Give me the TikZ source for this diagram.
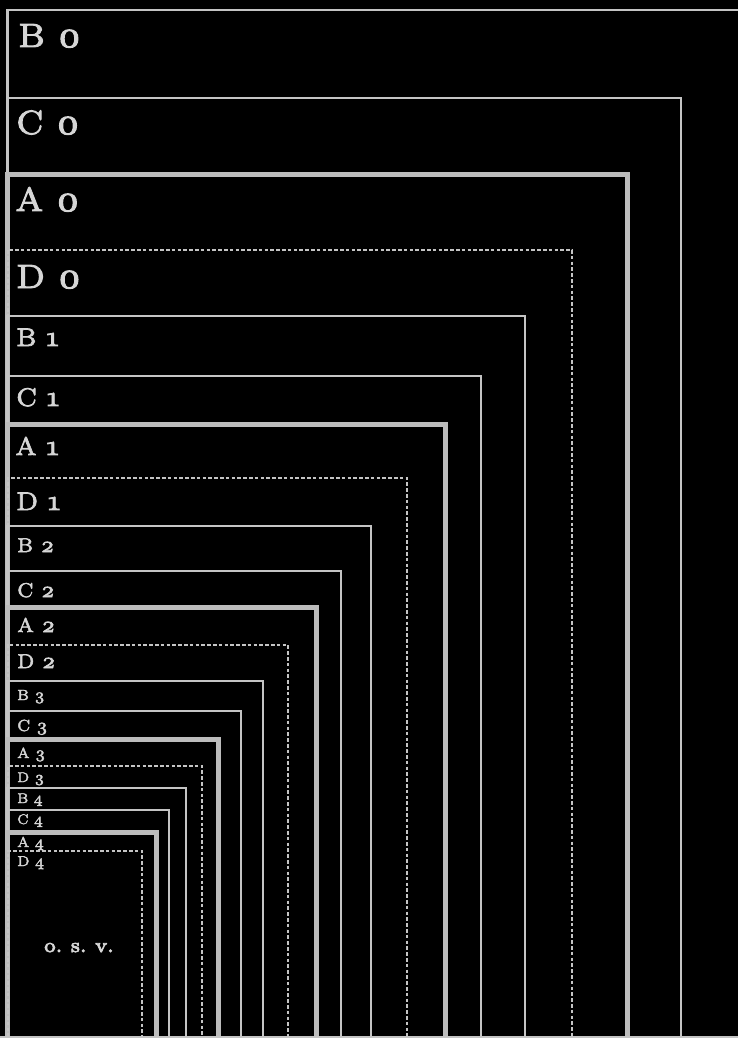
\documentclass[tikz,border=0pt]{standalone}
\usepackage{graphicx}
\definecolor{linegray}{RGB}{196,196,196}
\definecolor{thickgray}{RGB}{188,188,188}
\definecolor{textgray}{RGB}{214,214,214}
\tikzset{
  bline/.style={draw=linegray, line width=2.4pt},
  cline/.style={draw=linegray, line width=1.5pt},
  aline/.style={draw=thickgray, line width=5pt},
  dline/.style={draw=linegray, line width=2pt, dash pattern=on 3.6pt off 2.2pt},
  lab/.style={anchor=base west, inner sep=0pt, text=textgray},
}
\font\labfont="[lmroman7-regular.otf]:+onum;embolden=2.6" at 7pt
\font\osvfont="[lmroman7-regular.otf]:embolden=4" at 7pt
% #1 scale, #2 letter, #3 digit (old-style)
\newcommand{\lbl}[3]{\scalebox{#1}{\labfont #2\hspace{0.38em}\scalebox{1.1}{#3}}}
\begin{document}
\begin{tikzpicture}[x=1pt, y=-1pt, line join=miter, line cap=butt]
\fill[black] (0,0) rectangle (738,1038);
\useasboundingbox (0,0) rectangle (738,1038);
% B0: top line to the right border, no right edge visible
\draw[line width=2.8pt, draw=linegray] (7.5,1037) -- (7.5,10) -- (738,10);
% nested sheets: top / right / style
\foreach \t/\r/\s in {
  98/681/cline, 174/627/aline, 250/572/dline,
  316/525/bline, 376/481/cline, 424/445/aline, 478/407/dline,
  526/371/bline, 571/341/cline, 607/316/aline, 645/288/dline,
  681/263/bline, 711/241/cline, 739/218/aline, 766/202/dline,
  788/186/bline, 810/169/cline, 832/156/aline, 851/142/dline}
{
  \draw[\s] (7.5,1037) -- (7.5,\t) -- (\r,\t) -- (\r,1037);
}
% bottom edge
\draw[draw=linegray, line width=1.5pt] (0,1037) -- (738,1037);
% labels
\node[lab] (B0) at (18,47)  {\lbl{4.8}{B}{0}};
\node[lab] (C0) at (16,134) {\lbl{4.8}{C}{0}};
\node[lab] (A0) at (15,211) {\lbl{4.8}{A}{0}};
\node[lab] (D0) at (16,288) {\lbl{4.8}{D}{0}};
\node[lab] (B1) at (16,346) {\lbl{3.65}{B}{1}};
\node[lab] (C1) at (16,406) {\lbl{3.65}{C}{1}};
\node[lab] (A1) at (15,455) {\lbl{3.65}{A}{1}};
\node[lab] (D1) at (16,510) {\lbl{3.65}{D}{1}};
\node[lab] (B2) at (17,552) {\lbl{2.85}{B}{2}};
\node[lab] (C2) at (17,597) {\lbl{2.85}{C}{2}};
\node[lab] (A2) at (17,632) {\lbl{2.85}{A}{2}};
\node[lab] (D2) at (17,668) {\lbl{2.85}{D}{2}};
\node[lab] (B3) at (17,700) {\lbl{2.1}{B}{3}};
\node[lab] (C3) at (17,731) {\lbl{2.3}{C}{3}};
\node[lab] (A3) at (17,758) {\lbl{2.1}{A}{3}};
\node[lab] (D3) at (17,782) {\lbl{2.0}{D}{3}};
\node[lab] (B4) at (17,803) {\lbl{2.0}{B}{4}};
\node[lab] (C4) at (17,824) {\lbl{2.0}{C}{4}};
\node[lab] (A4) at (17,847) {\lbl{2.05}{A}{4}};
\node[lab] (D4) at (17,866) {\lbl{2.05}{D}{4}};
\node[text=textgray, inner sep=0pt, anchor=base] (osv) at (79,952)
  {\scalebox{2.9}{\osvfont o.\hspace{0.42em}s.\hspace{0.42em}v.}};
\end{tikzpicture}
\end{document}
